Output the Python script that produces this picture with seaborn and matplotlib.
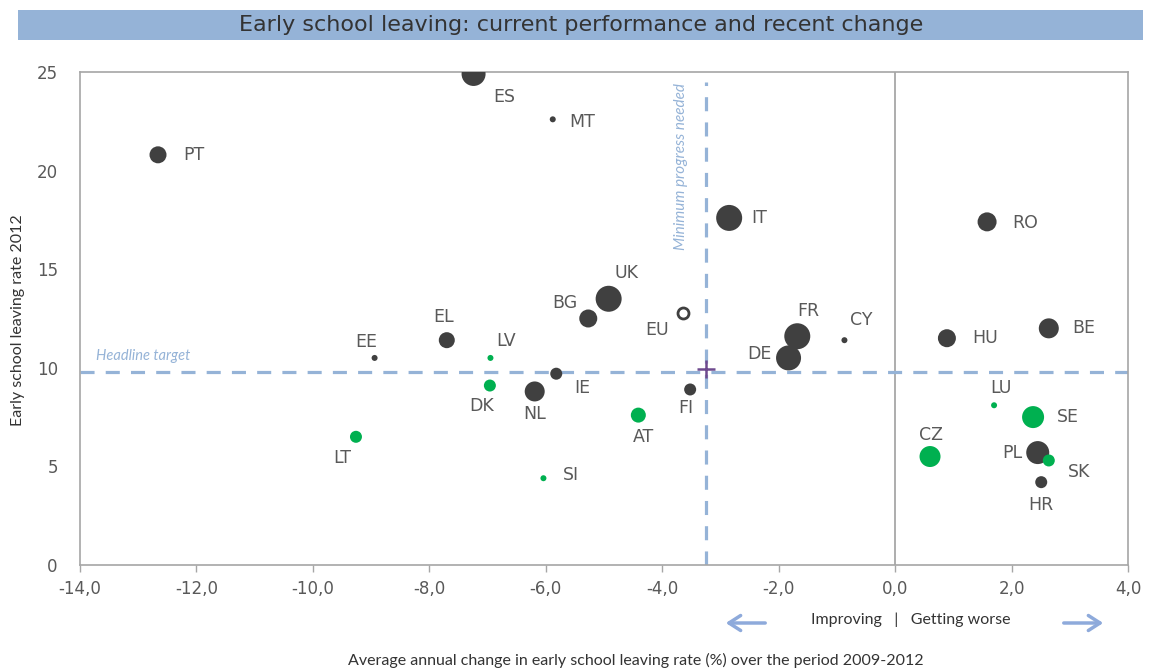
import matplotlib
matplotlib.use("Agg")
import matplotlib.pyplot as plt
import seaborn as sns
import pandas as pd
from matplotlib.patches import Rectangle
from matplotlib.ticker import FuncFormatter

# ---------------- data ----------------
countries = ["PT", "ES", "MT", "IT", "RO", "UK", "BG", "FR", "DE", "CY", "HU", "BE",
             "EL", "EE", "LV", "IE", "DK", "NL", "FI", "AT", "LT", "SI", "LU", "SE",
             "CZ", "PL", "SK", "HR"]
change = [-12.66, -7.24, -5.88, -2.85, 1.58, -4.92, -5.27, -1.68, -1.83, -0.87, 0.89, 2.64,
          -7.70, -8.94, -6.95, -5.82, -6.96, -6.19, -3.52, -4.41, -9.26, -6.04, 1.70, 2.37,
          0.60, 2.45, 2.64, 2.51]
rate = [20.8, 24.9, 22.6, 17.6, 17.4, 13.5, 12.5, 11.6, 10.5, 11.4, 11.5, 12.0,
        11.4, 10.5, 10.5, 9.7, 9.1, 8.8, 8.9, 7.6, 6.5, 4.4, 8.1, 7.5,
        5.5, 5.7, 5.3, 4.2]
below_target = [False, False, False, False, False, False, False, False, False, False, False, False,
                False, False, True, False, True, False, False, True, True, True, True, True,
                True, False, True, False]
bubble = [17, 24, 6, 26, 19, 26, 18, 26, 25, 6, 18, 20,
          16, 6, 6, 12, 12, 20, 12, 15, 12, 6, 6, 22,
          21, 23, 12, 12]
eu_change, eu_rate = -3.64, 12.8
target_rate = 9.8
min_progress = -3.25
xticks = [-14, -12, -10, -8, -6, -4, -2, 0, 2, 4]
yticks = [0, 5, 10, 15, 20, 25]

# label offsets (points) and alignment
label_pos = {
    "PT": (18, 0, "left", "center"), "ES": (14, -10, "left", "top"),
    "MT": (12, -2, "left", "center"), "IT": (16, 0, "left", "center"),
    "RO": (18, -1, "left", "center"), "UK": (4, 12, "left", "bottom"),
    "BG": (-8, 5, "right", "bottom"), "FR": (0, 12, "left", "bottom"),
    "DE": (-12, 3, "right", "center"), "CY": (4, 8, "left", "bottom"),
    "HU": (18, 0, "left", "center"), "BE": (17, 0, "left", "center"),
    "EL": (-2, 10, "center", "bottom"), "EE": (-6, 5, "center", "bottom"),
    "LV": (4, 6, "left", "bottom"), "IE": (13, -10, "left", "center"),
    "DK": (-6, -8, "center", "top"), "NL": (0, -10, "center", "top"),
    "FI": (-3, -7, "center", "top"), "AT": (4, -9, "center", "top"),
    "LT": (-10, -9, "center", "top"), "SI": (14, 2, "left", "center"),
    "LU": (5, 6, "center", "bottom"), "SE": (17, 0, "left", "center"),
    "CZ": (1, 9, "center", "bottom"), "PL": (-11, 0, "right", "center"),
    "SK": (14, -8, "left", "center"), "HR": (0, -10, "center", "top"),
}

df = pd.DataFrame({"country": countries, "change": change, "rate": rate,
                   "group": ["below" if b else "above" for b in below_target],
                   "bubble": bubble})

# ---------------- style ----------------
sns.set_theme(style="white")
plt.rcParams["font.family"] = ["DejaVu Sans"]
GRAY_TXT = "#595959"
DARK = "#404040"
GREEN = "#00b050"
BLUE = "#95b3d7"
SPINE = "#a6a6a6"

fig = plt.figure(figsize=(11.51, 6.71), dpi=100)
ax = fig.add_axes([0.0695, 0.158, 0.9105, 0.7347])

# title bar
fig.patches.append(Rectangle((0.0156, 0.9404), 0.9774, 0.0446, transform=fig.transFigure,
                             facecolor=BLUE, edgecolor="none", zorder=0))
fig.text(0.505, 0.962, "Early school leaving: current performance and recent change",
         ha="center", va="center", fontsize=16, color="#333333")

# reference lines
ax.axvline(0, color="#a0a0a0", lw=1.2, zorder=1)
ax.plot([-14, 4], [target_rate, target_rate], color=BLUE, lw=2.3,
        linestyle=(0, (4.4, 3.5)), zorder=1, solid_capstyle="butt")
ax.plot([min_progress, min_progress], [0, 24.5], color=BLUE, lw=2.3,
        linestyle=(0, (4.4, 3.5)), zorder=1)

sizes_map = {d: (d * 0.72) ** 2 for d in sorted(set(bubble))}
sns.scatterplot(data=df, x="change", y="rate", hue="group", size="bubble",
                palette={"above": DARK, "below": GREEN}, sizes=sizes_map,
                linewidth=0, legend=False, ax=ax, zorder=3)
sns.scatterplot(x=[eu_change], y=[eu_rate], s=(11 * 0.72) ** 2, facecolor="white",
                edgecolor=DARK, linewidth=2.0, ax=ax, zorder=3, legend=False)
ax.plot([min_progress], [9.92], marker="+", markersize=13, mew=1.8, color="#6f4a8e", zorder=4)

for c, x, y in zip(countries, change, rate):
    dx, dy, ha, va = label_pos[c]
    ax.annotate(c, (x, y), xytext=(dx, dy), textcoords="offset points",
                ha=ha, va=va, fontsize=12.5, color=GRAY_TXT)
ax.annotate("EU", (eu_change, eu_rate), xytext=(-10, -6), textcoords="offset points",
            ha="right", va="top", fontsize=12.5, color=GRAY_TXT)

ax.text(-13.72, target_rate + 0.45, "Headline target", fontsize=10.5, style="italic",
        color=BLUE, ha="left", va="bottom", family=["Lato", "DejaVu Sans"])
ax.text(min_progress - 0.3, 24.45, "Minimum progress needed", fontsize=11, style="italic",
        color=BLUE, ha="right", va="top", rotation=90, family=["Lato", "DejaVu Sans"])

# axes
ax.set_xlim(-14, 4)
ax.set_ylim(0, 25)
ax.set_xticks(xticks)
ax.set_yticks(yticks)
ax.xaxis.set_major_formatter(FuncFormatter(lambda v, p: f"{v:.1f}".replace(".", ",")))
ax.yaxis.set_major_formatter(FuncFormatter(lambda v, p: f"{int(v)}"))
ax.tick_params(axis="x", length=5, width=1, color=SPINE, labelsize=12, labelcolor=GRAY_TXT, pad=6, direction="out", bottom=True)
ax.tick_params(axis="y", length=0, labelsize=12, labelcolor=GRAY_TXT, pad=16)
for s in ax.spines.values():
    s.set_color(SPINE)
    s.set_linewidth(1.2)
ax.set_xlabel("")
ax.set_ylabel("")

fig.text(0.016, 0.523, "Early school leaving rate 2012", rotation=90, ha="center", va="center",
         fontsize=11.5, color="#333333", family=["Lato", "DejaVu Sans"])
fig.text(0.552, 0.015, "Average annual change in early school leaving rate (%) over the period 2009-2012",
         ha="center", va="center", fontsize=11.5, color="#333333", family=["Lato", "DejaVu Sans"])
fig.text(0.791, 0.076, "Improving   |   Getting worse", ha="center", va="center",
         fontsize=11.5, color="#333333", family=["Lato", "DejaVu Sans"])
arrow_kw = dict(arrowstyle="->,head_length=0.7,head_width=0.45", color="#8eaadb", lw=2.5)
ax.annotate("", xy=(723 / 1151, 1 - 623 / 671), xytext=(768 / 1151, 1 - 623 / 671),
            xycoords="figure fraction", textcoords="figure fraction", arrowprops=arrow_kw,
            annotation_clip=False)
ax.annotate("", xy=(1106 / 1151, 1 - 623 / 671), xytext=(1061 / 1151, 1 - 623 / 671),
            xycoords="figure fraction", textcoords="figure fraction", arrowprops=arrow_kw,
            annotation_clip=False)

fig.savefig("out.png", dpi=100)
